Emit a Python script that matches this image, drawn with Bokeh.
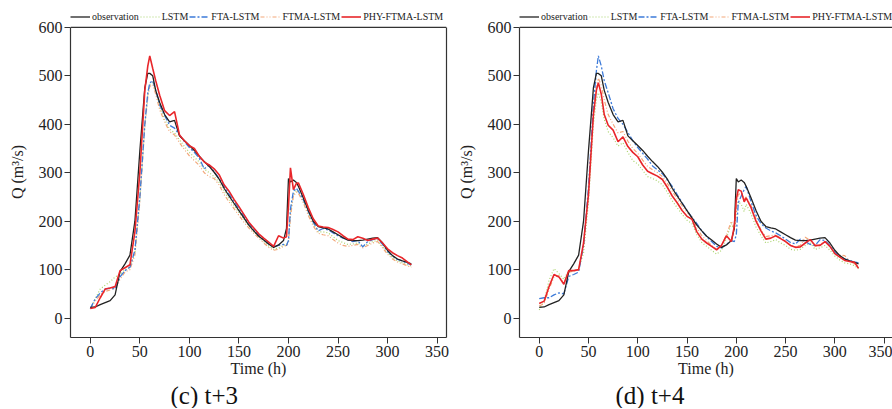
from bokeh.plotting import figure
from bokeh.layouts import row
from bokeh.models import (Legend, LegendItem, Title, Span, FixedTicker, Range1d,
                          LinearAxis)
from bokeh.embed import file_html
from bokeh.resources import INLINE

FONT = "Liberation Serif"

# ---------------- data ----------------
T = [0, 5, 10, 15, 20, 25, 30, 35, 40, 45,
     50, 55, 58, 60, 63, 66, 70, 75, 80, 85,
     90, 95, 100, 105, 110, 115, 120, 125, 130, 135,
     140, 145, 150, 155, 160, 165, 170, 175, 180, 185,
     190, 195, 198, 200, 202, 205, 208, 210, 215, 220,
     225, 230, 235, 240, 245, 250, 255, 260, 265, 270,
     275, 280, 285, 290, 295, 300, 305, 310, 315, 320,
     324]

observation = [22, 23, 28, 32, 36, 48, 96, 112, 130, 200,
               345, 475, 505, 505, 500, 470, 445, 420, 405, 408,
               376, 366, 356, 346, 334, 323, 313, 301, 287, 268,
               252, 237, 222, 207, 192, 180, 169, 161, 153, 146,
               151, 160, 185, 288, 281, 285, 280, 272, 248, 222,
               200, 189, 186, 184, 178, 172, 166, 161, 160, 160,
               161, 163, 165, 166, 155, 140, 129, 122, 118, 115,
               112]

# (c) t+3
lstm_3 = [20, 40, 60, 68, 75, 85, 90, 100, 105, 135,
          245, 398, 460, 482, 486, 468, 435, 410, 390, 382,
          368, 354, 342, 332, 322, 308, 300, 292, 280, 262,
          246, 232, 218, 204, 190, 178, 168, 158, 149, 142,
          145, 150, 152, 158, 215, 256, 264, 260, 240, 216,
          194, 178, 178, 176, 168, 160, 156, 152, 153, 155,
          148, 153, 158, 160, 148, 135, 125, 118, 114, 110,
          107]
fta_3 = [20, 40, 52, 60, 62, 60, 85, 98, 105, 140,
         250, 400, 465, 485, 490, 470, 440, 418, 398, 392,
         378, 364, 352, 342, 330, 308, 316, 302, 288, 272,
         256, 241, 226, 210, 196, 183, 171, 162, 153, 147,
         150, 152, 150, 160, 225, 262, 268, 262, 244, 220,
         198, 180, 185, 182, 176, 170, 165, 162, 158, 160,
         147, 158, 162, 164, 152, 138, 128, 121, 118, 113,
         110]
ftma_3 = [20, 35, 48, 55, 58, 62, 80, 95, 100, 130,
          240, 395, 455, 478, 482, 462, 430, 405, 385, 378,
          362, 348, 335, 325, 315, 300, 292, 288, 275, 255,
          240, 226, 212, 198, 186, 175, 165, 155, 146, 140,
          142, 148, 150, 155, 210, 252, 260, 258, 238, 212,
          190, 175, 172, 170, 162, 155, 150, 148, 150, 152,
          145, 150, 155, 158, 145, 132, 122, 116, 112, 108,
          105]
phy_3 = [20, 22, 42, 60, 62, 65, 98, 104, 110, 178,
         300, 470, 520, 541, 515, 490, 460, 428, 418, 426,
         378, 366, 356, 350, 334, 322, 316, 308, 296, 275,
         262, 245, 230, 214, 198, 186, 174, 165, 157, 148,
         170, 165, 168, 230, 310, 265, 278, 279, 255, 228,
         205, 190, 188, 187, 183, 178, 170, 163, 162, 168,
         165, 160, 163, 165, 155, 143, 135, 129, 124, 116,
         110]

# (d) t+4
lstm_4 = [17, 35, 78, 102, 92, 80, 98, 98, 100, 135,
          240, 400, 450, 465, 445, 410, 385, 372, 355, 362,
          342, 325, 318, 305, 292, 288, 283, 275, 260, 242,
          228, 214, 202, 195, 172, 156, 148, 140, 132, 140,
          165, 195, 180, 215, 240, 235, 220, 235, 215, 188,
          170, 155, 158, 162, 155, 150, 142, 140, 142, 150,
          155, 142, 145, 150, 140, 128, 120, 114, 112, 108,
          102]
fta_4 = [40, 42, 42, 48, 52, 50, 86, 90, 95, 150,
         270, 440, 510, 541, 520, 490, 465, 432, 412, 400,
         383, 366, 352, 340, 328, 314, 306, 298, 285, 272,
         255, 238, 222, 208, 195, 180, 168, 158, 148, 145,
         152, 160, 158, 172, 238, 252, 265, 272, 240, 212,
         195, 186, 180, 176, 170, 163, 156, 153, 163, 158,
         152, 150, 162, 160, 150, 136, 128, 122, 119, 116,
         114]
ftma_4 = [25, 30, 60, 85, 88, 72, 95, 97, 100, 150,
          255, 425, 480, 495, 480, 450, 420, 400, 382, 385,
          365, 350, 340, 326, 313, 306, 300, 292, 278, 262,
          246, 232, 218, 210, 186, 170, 160, 150, 142, 150,
          172, 200, 185, 225, 255, 258, 245, 250, 232, 205,
          182, 168, 170, 172, 165, 158, 150, 147, 150, 167,
          160, 148, 152, 158, 148, 135, 130, 129, 118, 112,
          106]
phy_4 = [30, 35, 65, 90, 85, 70, 98, 98, 100, 155,
         255, 420, 470, 486, 462, 420, 398, 388, 364, 374,
         354, 342, 333, 316, 303, 298, 293, 286, 270, 252,
         238, 222, 210, 204, 178, 163, 155, 148, 141, 150,
         170, 158, 190, 245, 265, 262, 240, 248, 228, 200,
         180, 163, 165, 170, 164, 158, 150, 146, 147, 155,
         162, 150, 150, 158, 148, 133, 126, 119, 117, 115,
         103]

x_ticks = [0, 50, 100, 150, 200, 250, 300, 350]
y_ticks = [0, 100, 200, 300, 400, 500, 600]
names = ["observation", "LSTM", "FTA-LSTM", "FTMA-LSTM", "PHY-FTMA-LSTM"]

STYLES = {
    "observation": dict(line_color="#222222", line_width=1.3, line_dash="solid"),
    "LSTM": dict(line_color="#a9d36b", line_width=1.2, line_dash="1 2"),
    "FTA-LSTM": dict(line_color="#3d7bd9", line_width=1.3, line_dash="6 2 2 2"),
    "FTMA-LSTM": dict(line_color="#f3a77a", line_width=1.2, line_dash="4 2 1 2 1 2"),
    "PHY-FTMA-LSTM": dict(line_color="#e8262a", line_width=1.6, line_dash="solid"),
}

Y_LO, Y_HI, Y_TOP = -40, 600, 643
BOX = "#333333"


def make_panel(series, caption, width, x_end, border_left, border_right,
               cap_offset, right_box):
    p = figure(width=width, height=408, x_range=Range1d(-20, x_end),
               y_range=Range1d(Y_LO, Y_TOP), output_backend="svg",
               toolbar_location=None, min_border_left=border_left,
               min_border_right=border_right, min_border_top=6,
               min_border_bottom=68, background_fill_color="white",
               border_fill_color="white")
    p.xgrid.grid_line_color = None
    p.ygrid.grid_line_color = None
    p.outline_line_color = None
    p.add_layout(Span(location=Y_HI, dimension="width", line_color=BOX,
                      line_width=1.2))

    for ax in (p.xaxis[0], p.yaxis[0]):
        ax.axis_line_color = BOX
        ax.axis_line_width = 1.2
        ax.major_tick_line_color = BOX
        ax.major_tick_out = 6
        ax.major_tick_in = 0
        ax.minor_tick_line_color = None
        ax.major_label_text_font = FONT
        ax.major_label_text_font_size = "16px"
        ax.major_label_text_color = "#222222"
        ax.axis_label_text_font = FONT
        ax.axis_label_text_font_size = "16px"
        ax.axis_label_text_font_style = "normal"
        ax.axis_label_text_color = "#222222"
    p.xaxis.ticker = FixedTicker(ticks=x_ticks)
    p.yaxis.ticker = FixedTicker(ticks=y_ticks)
    p.yaxis.bounds = (Y_LO, Y_HI)
    p.xaxis.axis_label = "Time (h)"
    p.yaxis.axis_label = "Q (m³/s)"
    p.xaxis.major_label_standoff = 2
    p.xaxis.axis_label_standoff = 0
    p.yaxis.major_label_standoff = 2
    p.yaxis.axis_label_standoff = 10

    if right_box:
        rax = LinearAxis(bounds=(Y_LO, Y_HI), ticker=FixedTicker(ticks=[]),
                         axis_line_color=BOX, axis_line_width=1.2,
                         major_tick_line_color=None, minor_tick_line_color=None,
                         major_tick_out=0, major_tick_in=0,
                         major_label_standoff=0,
                         major_label_text_font_size="0px")
        p.add_layout(rax, "right")

    order = ["LSTM", "FTMA-LSTM", "FTA-LSTM", "observation", "PHY-FTMA-LSTM"]
    rends = {}
    for nm in order:
        rends[nm] = p.line(T, series[nm], **STYLES[nm])

    items = [LegendItem(label=nm, renderers=[rends[nm]]) for nm in names]
    legend = Legend(items=items, orientation="horizontal", location=(0, 315),
                    label_text_font=FONT, label_text_font_size="10px",
                    label_text_color="#222222",
                    glyph_width=20, glyph_height=11, label_height=11,
                    label_standoff=2, spacing=1, padding=0, margin=0,
                    border_line_color=None, background_fill_alpha=0)
    p.add_layout(legend)

    cap = Title(text=caption, align="left", offset=cap_offset, text_font=FONT,
                text_font_size="25px", text_font_style="normal",
                text_color="#111111", standoff=0)
    p.add_layout(cap, "below")
    return p


s3 = {"observation": observation, "LSTM": lstm_3, "FTA-LSTM": fta_3,
      "FTMA-LSTM": ftma_3, "PHY-FTMA-LSTM": phy_3}
s4 = {"observation": observation, "LSTM": lstm_4, "FTA-LSTM": fta_4,
      "FTMA-LSTM": ftma_4, "PHY-FTMA-LSTM": phy_4}

p1 = make_panel(s3, "(c) t+3", 454, 359.5, 70, 8, 100, True)
p2 = make_panel(s4, "(d) t+4", 438, 358.5, 62, 0, 96, False)

layout = row(p1, p2)
open("out.html", "w").write(file_html(layout, INLINE))
